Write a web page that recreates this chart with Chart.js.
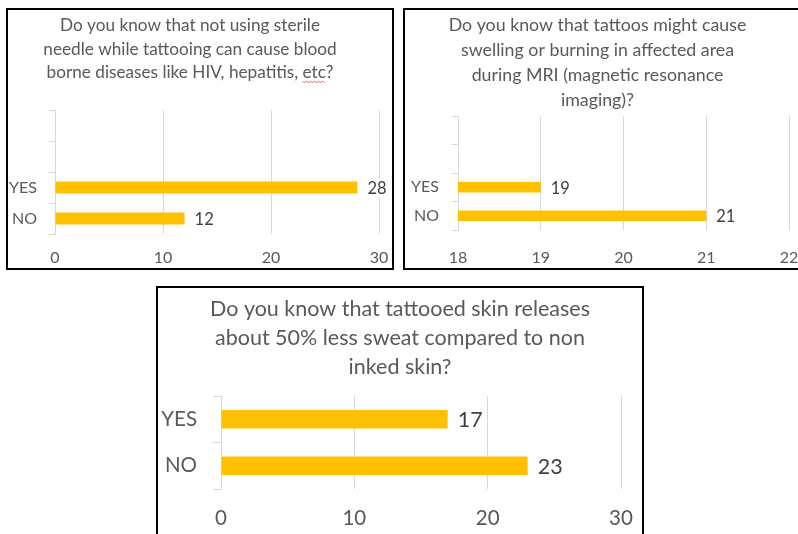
<!DOCTYPE html>
<html>
<head>
<meta charset="utf-8">
<script src="https://cdn.jsdelivr.net/npm/chart.js@4/dist/chart.umd.min.js"></script>
<style>
  html, body { margin: 0; padding: 0; background: #ffffff; overflow: hidden; }
  body { position: relative; width: 798px; height: 534px; }
  .frame { position: absolute; box-sizing: border-box; border: 2px solid #000; background: #fff; }
  .holder { position: absolute; }
  .holder canvas { display: block; }
</style>
</head>
<body>
<div class="frame" style="left:6px;top:8px;width:388px;height:262px"></div>
<div class="frame" style="left:403px;top:8px;width:420px;height:262px"></div>
<div class="frame" style="left:156px;top:286px;width:488px;height:270px"></div>

<div class="holder" style="left:1px;top:10px;width:390px;height:256px"><canvas id="needle"></canvas></div>
<div class="holder" style="left:406px;top:10px;width:403px;height:256px"><canvas id="mri"></canvas></div>
<div class="holder" style="left:158px;top:287px;width:483px;height:247px"><canvas id="sweat"></canvas></div>

<script>
// Survey answers, listed top to bottom as drawn
const answers = ['YES', 'NO'];

const needleTitle = [
  'Do you know that not using sterile',
  'needle while tattooing can cause blood',
  'borne diseases like HIV, hepatitis, etc?'
];
const needleCounts = [28, 12];
const needleTicks = [0, 10, 20, 30];

const mriTitle = [
  'Do you know that tattoos might cause',
  'swelling or burning in affected area',
  'during MRI (magnetic resonance',
  'imaging)?'
];
const mriCounts = [19, 21];
const mriTicks = [18, 19, 20, 21, 22];

const sweatTitle = [
  'Do you know that tattooed skin releases',
  'about 50% less sweat compared to non',
  'inked skin?'
];
const sweatCounts = [17, 23];
const sweatTicks = [0, 10, 20, 30];

const FONT = 'Lato, "Open Sans", sans-serif';
const GOLD = '#FFC000';
const GRID = '#d9d9d9';
const AXIS_TEXT = '#595959';
const VALUE_TEXT = '#404040';

// Value labels at the end of each bar, on a white box that hides the gridlines behind them
const valueLabels = {
  id: 'valueLabels',
  afterDatasetsDraw(chart, args, opts) {
    const ctx = chart.ctx;
    const size = opts.size || 15;
    ctx.save();
    ctx.font = size + 'px ' + FONT;
    ctx.textBaseline = 'middle';
    ctx.textAlign = 'left';
    chart.data.datasets.forEach((ds, di) => {
      chart.getDatasetMeta(di).data.forEach((bar, i) => {
        const v = ds.data[i];
        if (v === null || v === undefined) return;
        const text = String(v);
        const x = bar.x + (opts.gap || 10);
        const w = ctx.measureText(text).width;
        ctx.fillStyle = '#ffffff';
        ctx.fillRect(x - 3, bar.y - size * 0.6, w + 6, size * 1.2);
        ctx.fillStyle = VALUE_TEXT;
        ctx.fillText(text, x, bar.y + 1);
      });
    });
    ctx.restore();
  }
};

// Moves the title block sideways so it sits centred over the text column of the panel
const titleShift = {
  id: 'titleShift',
  afterLayout(chart, args, opts) {
    const s = (opts && opts.dx) || 0;
    if (chart.titleBlock && s) {
      chart.titleBlock.left += s;
      chart.titleBlock.right += s;
    }
  }
};

// Red spell-check squiggle under a word of the title
const squiggle = {
  id: 'squiggle',
  afterDraw(chart, args, opts) {
    if (!opts || !opts.word) return;
    const t = chart.titleBlock;
    const ctx = chart.ctx;
    const lines = chart.options.plugins.title.text;
    const line = lines[opts.line];
    const idx = line.indexOf(opts.word);
    if (idx < 0) return;
    ctx.save();
    ctx.font = opts.size + 'px ' + FONT;
    const lineW = ctx.measureText(line).width;
    const cx = (t.left + t.right) / 2;
    const x0 = cx - lineW / 2 + ctx.measureText(line.slice(0, idx)).width;
    const x1 = x0 + ctx.measureText(opts.word).width;
    const y = t.top + opts.top + opts.lineHeight * opts.line + opts.lineHeight / 2 + opts.size * 0.5;
    ctx.strokeStyle = '#e06666';
    ctx.lineWidth = 1;
    ctx.beginPath();
    for (let x = x0, k = 0; x <= x1 + 0.5; x += 2, k++) {
      const yy = y + (k % 2 ? 1.2 : 0);
      if (k === 0) ctx.moveTo(x, yy); else ctx.lineTo(x, yy);
    }
    ctx.stroke();
    ctx.restore();
  }
};

function makeChart(id, cfg) {
  // Empty category slots above the answers where a panel leaves room for them
  const labels = Array(cfg.blankRows).fill('').concat(answers);
  const values = Array(cfg.blankRows).fill(null).concat(cfg.counts);
  const ticks = cfg.ticks;
  return new Chart(document.getElementById(id), {
    type: 'bar',
    data: {
      labels: labels,
      datasets: [{
        data: values,
        backgroundColor: GOLD,
        borderWidth: 0,
        barPercentage: cfg.barPct,
        categoryPercentage: 1
      }]
    },
    options: {
      indexAxis: 'y',
      responsive: true,
      maintainAspectRatio: false,
      animation: false,
      events: [],
      layout: { padding: { left: 0, right: cfg.padRight, top: 0, bottom: 0 } },
      plugins: {
        legend: { display: false },
        tooltip: { enabled: false },
        title: {
          display: true,
          text: cfg.title,
          color: AXIS_TEXT,
          font: { family: FONT, size: cfg.titleSize, weight: 'normal', lineHeight: cfg.titleLine + 'px' },
          padding: { top: cfg.titleTop, bottom: cfg.titleBottom }
        },
        valueLabels: { size: cfg.valueSize, gap: cfg.gap },
        titleShift: { dx: cfg.titleDx || 0 },
        squiggle: cfg.squiggleWord ? {
          line: 2, word: cfg.squiggleWord, size: cfg.titleSize,
          lineHeight: cfg.titleLine, top: cfg.titleTop
        } : {}
      },
      scales: {
        x: {
          type: 'linear',
          min: ticks[0],
          max: ticks[ticks.length - 1],
          afterBuildTicks(scale) { scale.ticks = ticks.map(v => ({ value: v })); },
          afterFit(scale) { scale.height = cfg.xHeight; },
          grid: { color: GRID, lineWidth: 1, drawTicks: true, tickLength: cfg.xGap, tickColor: 'rgba(0,0,0,0)' },
          border: { display: false },
          ticks: {
            color: AXIS_TEXT,
            font: { family: FONT, size: cfg.textSize },
            padding: 0,
            maxRotation: 0
          }
        },
        y: {
          type: 'category',
          afterFit(scale) { scale.width = cfg.yWidth; },
          grid: { drawOnChartArea: false, drawTicks: true, tickLength: cfg.tickLen, color: GRID, offset: true },
          border: { display: true, color: GRID, width: 1 },
          ticks: {
            color: AXIS_TEXT,
            font: { family: FONT, size: cfg.textSize },
            padding: cfg.yPad
          }
        }
      }
    },
    plugins: [titleShift, valueLabels, squiggle]
  });
}

makeChart('needle', {
  title: needleTitle, counts: needleCounts, ticks: needleTicks, blankRows: 2,
  titleSize: 17.2, titleLine: 23.5, titleTop: 4, titleBottom: 25.5,
  textSize: 16, valueSize: 16.5, padRight: 12, yWidth: 54, xHeight: 32,
  xGap: 14.5, yPad: 12, tickLen: 6, barPct: 0.39, gap: 10,
  squiggleWord: 'etc'
});

makeChart('mri', {
  title: mriTitle, counts: mriCounts, ticks: mriTicks, blankRows: 2,
  titleSize: 17.8, titleLine: 25, titleTop: 2.5, titleBottom: 3.5,
  textSize: 16, valueSize: 16.5, padRight: 20, yWidth: 52, xHeight: 36,
  xGap: 18.5, yPad: 13, tickLen: 6, barPct: 0.37, gap: 10
});

makeChart('sweat', {
  title: sweatTitle, counts: sweatCounts, ticks: sweatTicks, blankRows: 0,
  titleSize: 21.5, titleLine: 29, titleTop: 7.5, titleBottom: 14.5,
  textSize: 20.5, valueSize: 21.5, padRight: 20, yWidth: 63, xHeight: 45,
  xGap: 17.5, yPad: 16, tickLen: 8, barPct: 0.4, gap: 10, titleDx: 10.5
});
</script>
</body>
</html>
